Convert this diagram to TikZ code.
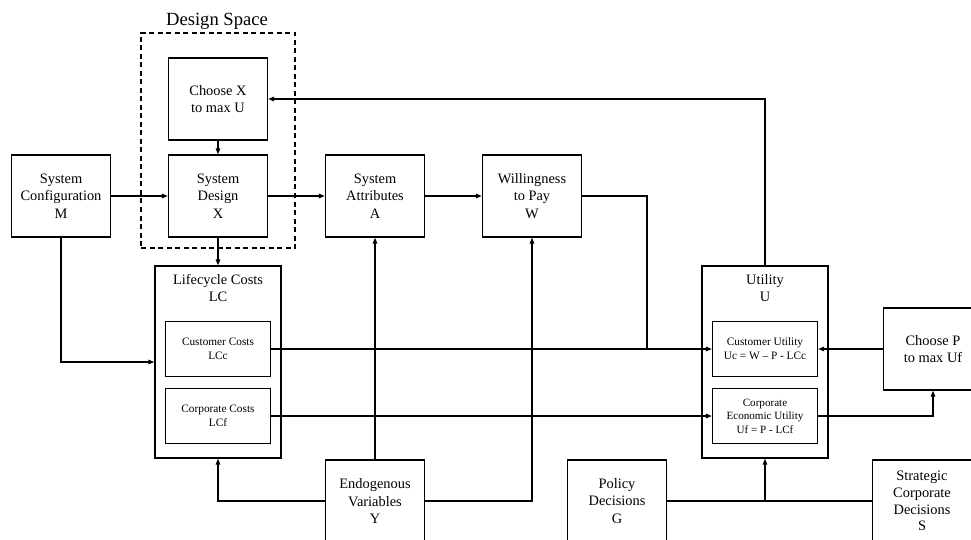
\documentclass[tikz,border=0pt]{standalone}
\usepackage{fontspec}
\setmainfont{Liberation Serif}
\usetikzlibrary{arrows.meta}
\begin{document}
\begin{tikzpicture}[x=1pt,y=-1pt,
  boxbase/.style={draw,line width=1.3pt,inner sep=0pt,align=center},
  block/.style={boxbase,minimum width=99pt,minimum height=82pt,font=\fontsize{14.4}{17.5}\selectfont},
  frame/.style={boxbase,minimum width=126pt,minimum height=192pt},
  subbox/.style={boxbase,minimum width=105pt,minimum height=55pt,font=\fontsize{11.3}{13.8}\selectfont},
  heading/.style={inner sep=0pt,align=center,font=\fontsize{14.4}{17.5}\selectfont},
  spacebox/.style={draw,line width=1.3pt,dash pattern=on 5pt off 3.5pt,minimum width=154pt,minimum height=215pt,inner sep=0pt},
  link/.style={line width=1.3pt},
  arr/.style={link,-{Triangle[length=6pt,width=4.5pt]}},
]
\useasboundingbox (0,0) rectangle (971,540);
\clip (0,0) rectangle (971,540);

% design space
\node[spacebox] (ds) at (218,140.5) {};
\node[inner sep=0pt,font=\fontsize{18.6}{22}\selectfont] (dstitle) at (217,21) {Design Space};

% main blocks
\node[block] (cfg)  at (61,196)  {System\\Configuration\\M};
\node[block] (chx)  at (218,99)  {Choose X\\to max U};
\node[block] (des)  at (218,196) {System\\Design\\X};
\node[block] (attr) at (375,196) {System\\Attributes\\A};
\node[block] (wtp)  at (532,196) {Willingness\\to Pay\\W};
\node[block] (chp)  at (933,349) {Choose P\\to max Uf};
\node[block] (endo) at (375,501) {Endogenous\\Variables\\Y};
\node[block] (pol)  at (617,501) {Policy\\Decisions\\G};
\node[block,font=\fontsize{14.4}{16.7}\selectfont] (strat) at (922,501) {Strategic\\Corporate\\Decisions\\S};

% lifecycle costs group
\node[frame] (lc) at (218,362) {};
\node[heading] (lct) at (218,288) {Lifecycle Costs\\LC};
\node[subbox] (lcc) at (218,349) {Customer Costs\\LCc};
\node[subbox] (lcf) at (218,416) {Corporate Costs\\LCf};

% utility group
\node[frame] (util) at (765,362) {};
\node[heading] (ut) at (765,288) {Utility\\U};
\node[subbox] (cu)  at (765,349) {Customer Utility\\Uc = W – P - LCc};
\node[subbox,font=\fontsize{11.1}{13.5}\selectfont] (ceu) at (765,416) {Corporate\\Economic Utility\\Uf = P - LCf};

\coordinate (wj) at (647,349);

% connectors
\draw[arr] (cfg.east) -- (des.west);
\draw[arr] (des.east) -- (attr.west);
\draw[arr] (attr.east) -- (wtp.west);
\draw[arr] (chx.south) -- (des.north);
\draw[arr] (des.south) -- (lc.north);
\draw[arr] (cfg.south) |- (lc.west);
\draw[arr] (util.north) |- (chx.east);
\draw[link] (wtp.east) -| (wj);
\draw[arr] (lcc.east) -- (cu.west);
\draw[arr] (lcf.east) -- (ceu.west);
\draw[arr] (ceu.east) -| (chp.south);
\draw[arr] (chp.west) -- (cu.east);
\draw[arr] (endo.north) -- (attr.south);
\draw[arr] (endo.east) -| (wtp.south);
\draw[arr] (endo.west) -| (lc.south);
\draw[link] (pol.east) -- (strat.west);
\draw[arr] (pol.east -| util.south) -- (util.south);
\end{tikzpicture}
\end{document}
